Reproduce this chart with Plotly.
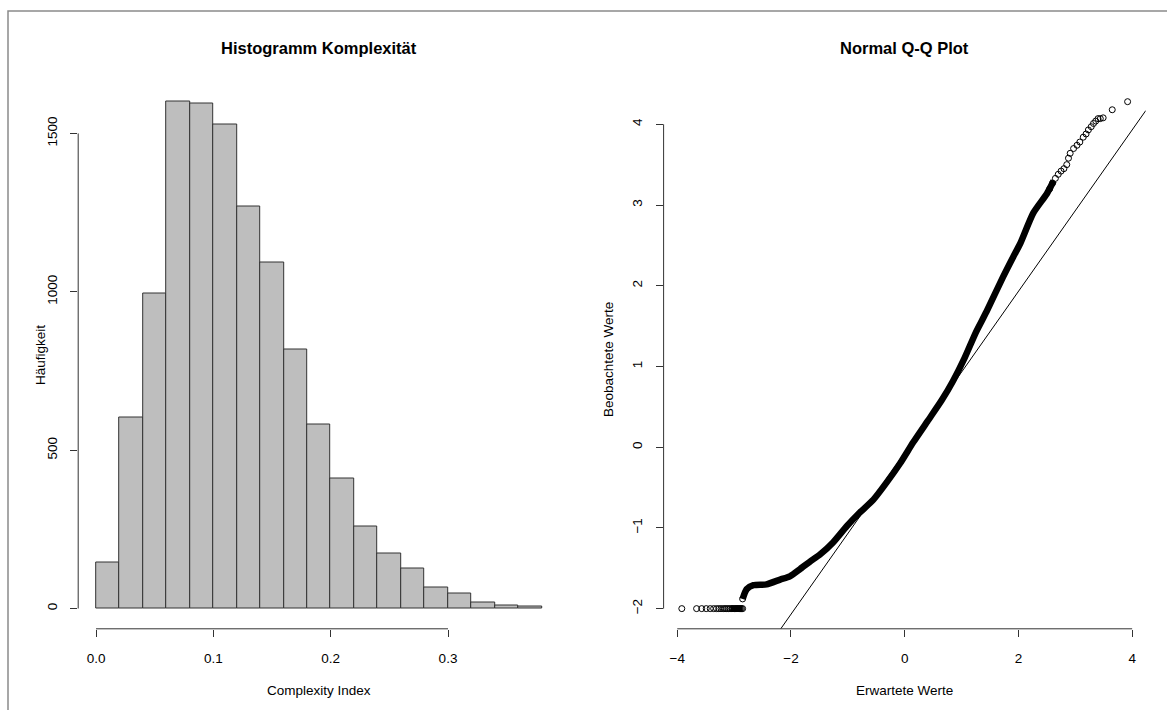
import plotly.graph_objects as go

W, H = 1167, 710

# ---------------- data ----------------
# histogram: bin starts (width 0.02) and counts
bin_starts = [0.00, 0.02, 0.04, 0.06, 0.08, 0.10, 0.12, 0.14, 0.16, 0.18,
              0.20, 0.22, 0.24, 0.26, 0.28, 0.30, 0.32, 0.34, 0.36]
bin_width = 0.02
counts = [145, 602, 995, 1600, 1594, 1528, 1269, 1094, 817, 580,
          411, 260, 175, 127, 67, 46, 19, 10, 6]
hist_xticks = [0.0, 0.1, 0.2, 0.3]
hist_xticklabels = ["0.0", "0.1", "0.2", "0.3"]
hist_yticks = [0, 500, 1000, 1500]

# Q-Q plot: lower tied points (observed = -2)
low_x = [-3.92, -3.66, -3.57, -3.49, -3.42, -3.36, -3.31, -3.27, -3.23, -3.19,
         -3.16, -3.13, -3.10, -3.07, -3.04, -3.02, -2.99, -2.97, -2.95, -2.93,
         -2.91, -2.89, -2.87, -2.85]
low_y = [-2.0] * len(low_x)
# dense run of the tied points
low_band_x = [-3.06, -2.85]
low_band_y = [-2.0, -2.0]
# dense body of the Q-Q curve
band_x = [-2.85, -2.78, -2.66, -2.43, -2.19, -2.02, -1.84, -1.67, -1.49, -1.26,
          -1.02, -0.79, -0.55, -0.32, -0.08, 0.15, 0.40, 0.65, 0.85, 1.05,
          1.25, 1.44, 1.73, 1.91, 2.03, 2.26, 2.50, 2.62]
band_y = [-1.88, -1.76, -1.71, -1.70, -1.64, -1.60, -1.51, -1.42, -1.33, -1.18,
          -0.98, -0.81, -0.65, -0.44, -0.20, 0.06, 0.32, 0.58, 0.82, 1.10,
          1.42, 1.68, 2.11, 2.36, 2.52, 2.90, 3.14, 3.30]
# upper tail points
up_x = [-2.85, 2.55, 2.60, 2.65, 2.70, 2.75, 2.80, 2.85, 2.88, 2.91, 2.97, 3.03,
        3.08, 3.14, 3.19, 3.23, 3.28, 3.32, 3.36, 3.40, 3.44, 3.49, 3.65, 3.92]
up_y = [-1.88, 3.20, 3.27, 3.33, 3.38, 3.42, 3.45, 3.50, 3.58, 3.64, 3.70, 3.74,
        3.78, 3.84, 3.88, 3.93, 3.97, 4.01, 4.04, 4.07, 4.07, 4.08, 4.18, 4.28]
# reference line (qqline)
qq_slope = 1.0
qq_intercept = -0.07
qq_xticks = [-4, -2, 0, 2, 4]
qq_yticks = [-2, -1, 0, 1, 2, 3, 4]

# ---------------- layout helpers ----------------
def px_x(p):
    return p / W

def px_y(p):
    return 1 - p / H

FONT = "Liberation Sans, Arial, sans-serif"
AX = "#333333"
FS = 13.5
FT = 16.5

fig = go.Figure()

centers = [s + bin_width / 2 for s in bin_starts]
fig.add_trace(go.Bar(x=centers, y=counts, width=bin_width,
                     marker=dict(color="#BEBEBE", line=dict(color="#333333", width=1)),
                     xaxis="x", yaxis="y", hoverinfo="skip"))

qx_range = [-4.24, 4.24]
fig.add_trace(go.Scatter(x=qx_range,
                         y=[qq_intercept + qq_slope * v for v in qx_range],
                         mode="lines", line=dict(color="black", width=1),
                         xaxis="x2", yaxis="y2", hoverinfo="skip"))
fig.add_trace(go.Scatter(x=band_x, y=band_y, mode="lines",
                         line=dict(color="black", width=6.5, shape="spline", smoothing=0.6),
                         xaxis="x2", yaxis="y2", hoverinfo="skip"))
fig.add_trace(go.Scatter(x=low_band_x, y=low_band_y, mode="lines",
                         line=dict(color="black", width=6),
                         xaxis="x2", yaxis="y2", hoverinfo="skip"))
fig.add_trace(go.Scatter(x=low_x + up_x, y=low_y + up_y, mode="markers",
                         marker=dict(symbol="circle-open", size=6, color="black",
                                     line=dict(width=1, color="black")),
                         xaxis="x2", yaxis="y2", hoverinfo="skip"))

ydom = [px_y(628.8), px_y(81.5)]
tickfont = dict(family=FONT, size=FS, color="black")
common = dict(showgrid=False, zeroline=False, showline=False, ticks="outside",
              ticklen=7, tickwidth=1, tickcolor=AX, tickfont=tickfont)

fig.update_layout(
    width=W, height=H, margin=dict(l=0, r=0, t=0, b=0),
    paper_bgcolor="white", plot_bgcolor="white", showlegend=False,
    bargap=0,
    xaxis=dict(domain=[px_x(78.2), px_x(559.7)], range=[-0.0152, 0.3952],
               tickvals=hist_xticks, ticktext=hist_xticklabels,
               ticklabelstandoff=10, anchor="y", **common),
    yaxis=dict(domain=ydom, range=[-64, 1664], tickvals=hist_yticks,
               tickangle=-90, ticklabelstandoff=8, anchor="x", **common),
    xaxis2=dict(domain=[px_x(663.6), px_x(1145.8)], range=qx_range,
                tickvals=qq_xticks, ticklabelstandoff=10, anchor="y2", **common),
    yaxis2=dict(domain=ydom, range=[-2.25, 4.53], tickvals=qq_yticks,
                tickangle=-90, ticklabelstandoff=8, anchor="x2", **common),
)

# axis lines spanning only the tick range (R style)
shapes = [
    dict(type="line", xref="x", yref="paper", x0=hist_xticks[0], x1=hist_xticks[-1],
         y0=ydom[0], y1=ydom[0], line=dict(color=AX, width=1)),
    dict(type="line", xref="paper", yref="y", x0=px_x(78.2), x1=px_x(78.2),
         y0=hist_yticks[0], y1=hist_yticks[-1], line=dict(color=AX, width=1)),
    dict(type="line", xref="x2", yref="paper", x0=qq_xticks[0], x1=qq_xticks[-1],
         y0=ydom[0], y1=ydom[0], line=dict(color=AX, width=1)),
    dict(type="line", xref="paper", yref="y2", x0=px_x(663.6), x1=px_x(663.6),
         y0=qq_yticks[0], y1=qq_yticks[-1], line=dict(color=AX, width=1)),
    # outer frame
    dict(type="rect", xref="paper", yref="paper", x0=px_x(8), x1=1.02,
         y0=-0.02, y1=px_y(11), line=dict(color="#8a8a8a", width=1.5)),
]
fig.update_layout(shapes=shapes)

def ann(text, x, y, size=FS, bold=False, angle=0):
    return dict(text=("<b>%s</b>" % text) if bold else text, x=px_x(x), y=px_y(y),
                xref="paper", yref="paper", showarrow=False, textangle=angle,
                xanchor="center", yanchor="middle",
                font=dict(family=FONT, size=size, color="black"))

fig.update_layout(annotations=[
    ann("Histogramm Komplexität", 319, 48, size=FT, bold=True),
    ann("Normal Q-Q Plot", 904.7, 48, size=FT, bold=True),
    ann("Complexity Index", 319, 690),
    ann("Erwartete Werte", 904.7, 690),
    ann("Häufigkeit", 40, 355, angle=-90),
    ann("Beobachtete Werte", 608, 360, angle=-90),
])

fig.write_html("out.html", config={"displayModeBar": False},
               post_script="document.body.style.margin='0';document.body.style.overflow='hidden';")
